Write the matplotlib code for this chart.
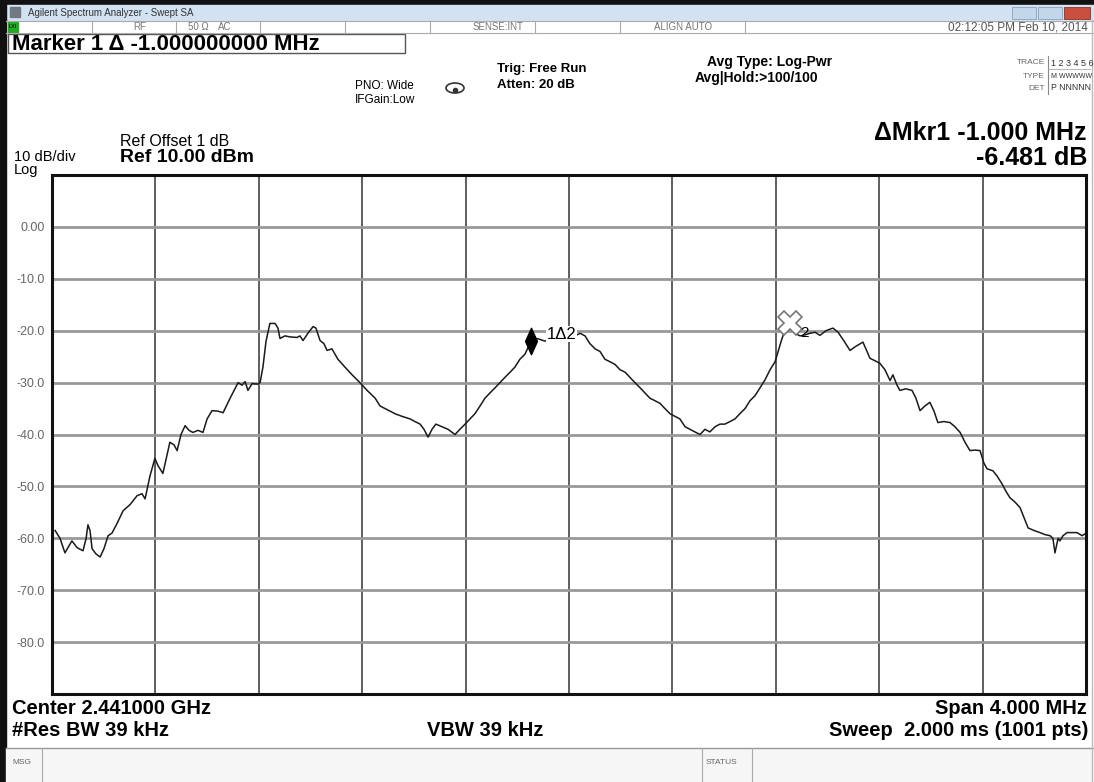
import matplotlib
matplotlib.use('Agg')
import matplotlib.pyplot as plt
from matplotlib.patches import Rectangle, Ellipse
from matplotlib.path import Path

plt.rcParams['font.family'] = ['Liberation Sans', 'DejaVu Sans']

W, H = 1094, 782

# trace: offset from center (MHz) and level (dBm)
freq_mhz = [-1.988, -1.969, -1.950, -1.923, -1.903, -1.880, -1.868, -1.861, -1.853, -1.845,
            -1.830, -1.814, -1.799, -1.783, -1.768, -1.749, -1.725, -1.698, -1.671, -1.652,
            -1.640, -1.621, -1.602, -1.590, -1.571, -1.555, -1.544, -1.528, -1.516, -1.501,
            -1.485, -1.470, -1.455, -1.435, -1.416, -1.400, -1.381, -1.358, -1.338, -1.311,
            -1.280, -1.265, -1.253, -1.242, -1.226, -1.203, -1.195, -1.184, -1.172, -1.157,
            -1.137, -1.126, -1.118, -1.099, -1.079, -1.052, -1.041, -1.029, -1.010, -0.990,
            -0.979, -0.963, -0.948, -0.936, -0.917, -0.894, -0.867, -0.839, -0.809, -0.781,
            -0.750, -0.731, -0.712, -0.692, -0.673, -0.646, -0.615, -0.596, -0.576, -0.561,
            -0.545, -0.530, -0.515, -0.491, -0.468, -0.441, -0.422, -0.402, -0.383, -0.364,
            -0.344, -0.325, -0.306, -0.286, -0.267, -0.248, -0.228, -0.209, -0.190, -0.170,
            -0.147, -0.124, -0.093, -0.066, -0.035, -0.004, 0.023, 0.043, 0.062, 0.081,
            0.101, 0.120, 0.139, 0.159, 0.178, 0.197, 0.217, 0.236, 0.255, 0.275,
            0.294, 0.313, 0.333, 0.352, 0.371, 0.391, 0.410, 0.429, 0.449, 0.468,
            0.487, 0.507, 0.526, 0.545, 0.565, 0.584, 0.603, 0.623, 0.642, 0.661,
            0.681, 0.700, 0.720, 0.739, 0.758, 0.778, 0.797, 0.809, 0.824, 0.839,
            0.855, 0.874, 0.894, 0.913, 0.932, 0.952, 0.971, 0.994, 1.021, 1.041,
            1.064, 1.087, 1.110, 1.137, 1.153, 1.164, 1.184, 1.203, 1.222, 1.242,
            1.253, 1.269, 1.280, 1.303, 1.327, 1.342, 1.358, 1.377, 1.396, 1.412,
            1.427, 1.450, 1.474, 1.493, 1.513, 1.532, 1.551, 1.571, 1.590, 1.605,
            1.617, 1.640, 1.656, 1.675, 1.691, 1.706, 1.725, 1.745, 1.760, 1.776,
            1.799, 1.822, 1.842, 1.861, 1.872, 1.880, 1.892, 1.899, 1.911, 1.927,
            1.946, 1.965, 1.985, 2.000]
level_dbm = [-58.5, -60.0, -62.8, -60.5, -61.8, -62.4, -60.0, -57.4, -58.5, -62.0,
             -63.0, -63.6, -62.0, -59.5, -59.0, -57.2, -54.7, -53.5, -51.8, -51.4,
             -52.4, -48.0, -44.6, -46.0, -47.5, -44.0, -41.5, -42.0, -43.1, -40.0,
             -38.3, -39.2, -39.6, -39.2, -39.6, -37.0, -35.4, -35.5, -35.8, -33.0,
             -30.0, -30.5, -29.8, -31.5, -30.2, -30.3, -30.0, -27.0, -22.0, -18.6,
             -18.6, -19.5, -21.5, -21.0, -21.2, -21.3, -21.0, -21.9, -20.5, -19.2,
             -19.5, -21.9, -22.5, -23.8, -23.5, -25.5, -27.0, -28.5, -30.0, -31.5,
             -33.0, -34.5, -35.0, -35.5, -36.0, -36.5, -37.0, -37.5, -38.0, -39.0,
             -40.5, -39.0, -38.0, -38.5, -39.0, -40.0, -39.0, -38.0, -37.0, -36.0,
             -34.5, -33.0, -32.0, -31.0, -30.0, -29.0, -28.0, -27.0, -25.5, -24.5,
             -22.0, -21.5, -22.0, -21.5, -22.0, -21.5, -21.0, -20.5, -21.0, -22.5,
             -23.5, -24.0, -25.5, -26.0, -26.5, -27.5, -28.0, -29.0, -30.0, -31.0,
             -32.0, -33.0, -33.5, -34.0, -35.0, -36.0, -36.5, -37.0, -38.5, -39.0,
             -39.5, -40.0, -39.0, -39.5, -38.5, -38.0, -38.0, -37.5, -37.0, -36.0,
             -35.0, -33.5, -32.5, -31.0, -29.5, -27.5, -26.0, -24.0, -21.5, -19.5,
             -18.6, -20.5, -21.0, -20.8, -20.5, -20.3, -20.9, -20.0, -19.5, -20.3,
             -22.0, -23.8, -23.0, -22.2, -24.0, -25.3, -25.8, -26.3, -27.5, -29.6,
             -28.5, -30.5, -31.5, -31.2, -31.5, -33.0, -35.4, -34.5, -33.8, -35.5,
             -37.7, -37.5, -37.7, -38.5, -39.6, -41.5, -43.1, -43.0, -43.1, -45.5,
             -46.6, -47.0, -48.0, -49.5, -51.0, -52.2, -53.0, -54.1, -56.0, -58.0,
             -58.5, -58.9, -59.3, -59.5, -60.0, -62.8, -60.0, -60.5, -59.5, -58.9,
             -58.9, -58.9, -59.5, -59.0]

ref_level = 10
db_per_div = 10
span_mhz = 4.0
y_ticks = list(range(-90, 11, 10))
y_tick_labels = ['', '-80.0', '-70.0', '-60.0', '-50.0', '-40.0', '-30.0', '-20.0', '-10.0', '0.00', '']
mkr1 = (-0.147, -22.0)
mkr2 = (0.855, -18.6)


def fx(x):
    return x / W


def fy(y):
    return 1 - y / H


fig = plt.figure(figsize=(W / 100, H / 100), dpi=100)
fig.patch.set_facecolor('white')

# window chrome drawn in pixel coordinates
ui = fig.add_axes([0, 0, 1, 1])
ui.set_xlim(0, W)
ui.set_ylim(H, 0)
ui.axis('off')

ui.add_patch(Rectangle((0, 0), W, 5, color='#111111'))
ui.add_patch(Rectangle((0, 5), W, 15, color='#d3e2f2'))
ui.add_patch(Rectangle((0, 0), 6, H, color='#111111'))
ui.add_patch(Rectangle((1012, 7), 24, 12, color='#c4d6ea', ec='#8aa2bf', lw=0.6))
ui.add_patch(Rectangle((1038, 7), 24, 12, color='#c4d6ea', ec='#8aa2bf', lw=0.6))
ui.add_patch(Rectangle((1064, 7), 26, 12, color='#c9503f', ec='#8e3328', lw=0.6))
ui.add_patch(Rectangle((10, 7), 10, 10, color='#707880'))
ui.text(28, 12.5, 'Agilent Spectrum Analyzer - Swept SA', fontsize=7, color='#333333', va='center')

# status row
ui.plot([6, W], [21, 21], color='#aaaaaa', lw=0.8)
ui.plot([6, W], [33, 33], color='#aaaaaa', lw=0.8)
for xs in [92, 176, 260, 345, 430, 535, 620, 745]:
    ui.plot([xs, xs], [21, 33], color='#aaaaaa', lw=0.8)
ui.add_patch(Rectangle((8, 22), 10, 10, color='#22aa22'))
ui.text(13, 27, 'LXI', fontsize=4, color='black', ha='center', va='center')
ui.text(140, 27.5, 'RF', fontsize=7, color='#777777', ha='center', va='center')
ui.text(198, 27.5, '50 Ω', fontsize=7, color='#777777', ha='center', va='center')
ui.text(225, 27.5, 'AC', fontsize=7, color='#777777', ha='center', va='center')
ui.text(498, 27.5, 'SENSE:INT', fontsize=7, color='#777777', ha='center', va='center')
ui.text(683, 27.5, 'ALIGN AUTO', fontsize=7, color='#777777', ha='center', va='center')
ui.text(1088, 27.5, '02:12:05 PM Feb 10, 2014', fontsize=8.5, color='#555555', ha='right', va='center')

# marker readout box
ui.add_patch(Rectangle((8, 34), 397, 19, fill=False, ec='#555555', lw=1))
ui.text(12, 44, 'Marker 1 Δ -1.000000000 MHz', fontsize=16, fontweight='bold', va='center')

ui.text(355, 86, 'PNO: Wide', fontsize=8.5, va='center')
ui.text(355, 100, 'IFGain:Low', fontsize=8.5, va='center')
ui.add_patch(Ellipse((455, 88), 18, 10, fill=False, ec='#333333', lw=1.2))
ui.plot([455], [90], marker='o', ms=3, color='#333333')
ui.text(497, 69, 'Trig: Free Run', fontsize=9.5, fontweight='bold', va='center')
ui.text(497, 85, 'Atten: 20 dB', fontsize=9.5, fontweight='bold', va='center')
ui.text(707, 62, 'Avg Type: Log-Pwr', fontsize=10, fontweight='bold', va='center')
ui.text(695, 78, 'Avg|Hold:>100/100', fontsize=10, fontweight='bold', va='center')

# trace table
ui.text(1045, 63, 'TRACE', fontsize=6, color='#666666', ha='right', va='center')
ui.text(1045, 76, 'TYPE', fontsize=6, color='#666666', ha='right', va='center')
ui.text(1045, 88, 'DET', fontsize=6, color='#666666', ha='right', va='center')
ui.plot([1048, 1048], [56, 94], color='#888888', lw=0.8)
ui.plot([1048, 1090], [69, 69], color='#aaaaaa', lw=0.6)
ui.text(1051, 63, '1 2 3 4 5 6', fontsize=6.5, color='#333333', ha='left', va='center')
ui.text(1051, 76, 'M WWWWW', fontsize=5, color='#333333', ha='left', va='center')
ui.text(1051, 88, 'P NNNNN', fontsize=6.3, color='#333333', ha='left', va='center')

ui.text(120, 141, 'Ref Offset 1 dB', fontsize=11.5, va='center')
ui.text(120, 158, 'Ref 10.00 dBm', fontsize=14, fontweight='bold', va='center')
ui.text(14, 157, '10 dB/div', fontsize=10.5, va='center')
ui.text(14, 170, 'Log', fontsize=10.5, va='center')
ui.text(1087, 133, 'ΔMkr1 -1.000 MHz', fontsize=18, fontweight='bold', ha='right', va='center')
ui.text(1087, 158, '-6.481 dB', fontsize=18, fontweight='bold', ha='right', va='center')

ui.text(12, 708, 'Center 2.441000 GHz', fontsize=14.5, fontweight='bold', va='center')
ui.text(12, 731, '#Res BW 39 kHz', fontsize=14.5, fontweight='bold', va='center')
ui.text(485, 731, 'VBW 39 kHz', fontsize=14.5, fontweight='bold', ha='center', va='center')
ui.text(1087, 708, 'Span 4.000 MHz', fontsize=14.5, fontweight='bold', ha='right', va='center')
ui.text(1088, 731, 'Sweep  2.000 ms (1001 pts)', fontsize=14.5, fontweight='bold', ha='right', va='center')

# message bar
ui.add_patch(Rectangle((6, 748), W - 6, H - 748, color='#f6f6f6'))
ui.plot([6, W], [748, 748], color='#999999', lw=1)
for xs in [42, 702, 752]:
    ui.plot([xs, xs], [748, H], color='#aaaaaa', lw=0.8)
ui.text(12, 763, 'MSG', fontsize=6, color='#666666', va='center')
ui.text(706, 763, 'STATUS', fontsize=6, color='#666666', va='center')
ui.plot([1092, 1092], [20, H], color='#bbbbbb', lw=1)

# spectrum graticule
ax = fig.add_axes([fx(52), fy(694), fx(1086) - fx(52), fy(175) - fy(694)])
ax.set_xlim(-span_mhz / 2, span_mhz / 2)
ax.set_ylim(ref_level - 10 * db_per_div, ref_level)
ax.set_xticks([-2 + 0.4 * i for i in range(11)])
ax.set_xticklabels([])
ax.set_yticks(y_ticks)
ax.set_yticklabels(y_tick_labels)
ax.tick_params(length=0, labelsize=9, labelcolor='#666666', pad=5)
ax.xaxis.grid(True, color='#333333', lw=1.1)
ax.yaxis.grid(True, color='#999999', lw=2)
ax.set_axisbelow(True)
for s in ax.spines.values():
    s.set_linewidth(2.2)
    s.set_color('#111111')

ax.plot(freq_mhz, level_dbm, color='#1a1a1a', lw=1.1)

diamond = Path([(0, 1), (0.45, 0), (0, -1), (-0.45, 0), (0, 1)],
               [Path.MOVETO, Path.LINETO, Path.LINETO, Path.LINETO, Path.CLOSEPOLY])
ax.plot(mkr1[0], mkr1[1], marker=diamond, ms=19, color='black')
ax.text(mkr1[0] + 0.06, mkr1[1] + 1.3, '1Δ2', fontsize=12, va='center', ha='left',
        bbox=dict(fc='white', ec='none', pad=0.5))
ax.plot(mkr2[0], mkr2[1], marker='X', ms=17, mfc='white', mec='#777777', mew=1.2)
ax.text(mkr2[0] + 0.04, mkr2[1] - 1.8, '2', fontsize=11, va='center', ha='left')

fig.savefig('out.png', dpi=100)
